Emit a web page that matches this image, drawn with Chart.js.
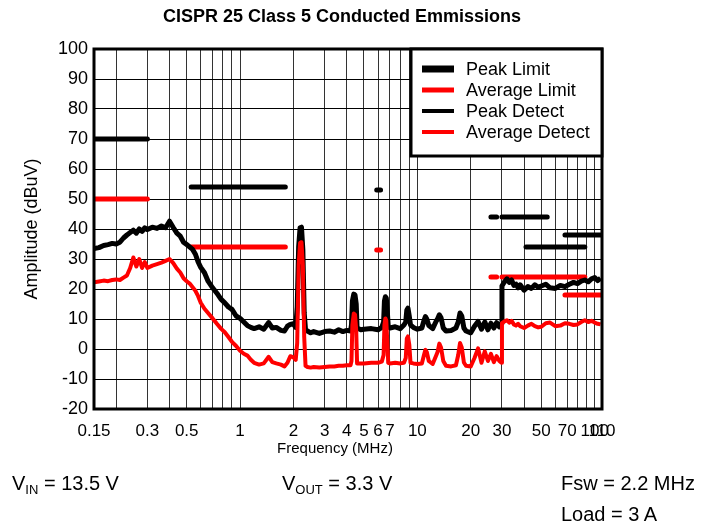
<!DOCTYPE html>
<html>
<head>
<meta charset="utf-8">
<title>CISPR 25 Class 5 Conducted Emmissions</title>
<script src="https://cdn.jsdelivr.net/npm/chart.js@4.4.0/dist/chart.umd.min.js"></script>
<style>
  body { margin: 0; background: #fff; }
  #wrap {
    position: relative;
    width: 705px;
    height: 526px;
    font-family: Arial, "Liberation Sans", sans-serif;
  }
  #emiChart { position: absolute; left: 0; top: 0; }
  .note {
    position: absolute;
    font-size: 20px;
    line-height: 20px;
    color: #000;
    white-space: nowrap;
  }
  .note sub { font-size: 13px; vertical-align: -4px; line-height: 0; }
</style>
</head>
<body>
<div id="wrap">
  <canvas id="emiChart" width="705" height="526"></canvas>
  <div class="note" style="left: 12px; top: 473px">V<sub>IN</sub> = 13.5 V</div>
  <div class="note" style="left: 282px; top: 473px">V<sub>OUT</sub> = 3.3 V</div>
  <div class="note" style="left: 561px; top: 473px">Fsw = 2.2 MHz</div>
  <div class="note" style="left: 561px; top: 504px">Load = 3 A</div>
</div>
<script>
  const chartTitle = "CISPR 25 Class 5 Conducted Emmissions";
  const xTitle = "Frequency (MHz)";
  const yTitle = "Amplitude (dBuV)";
  const FONT = "Arial, 'Liberation Sans', sans-serif";

  // log axis: lines at every decade step, labels only on some of them
  const gridFreqs = [
    0.15, 0.2, 0.3, 0.4, 0.5, 0.6, 0.7, 0.8, 0.9, 1, 2, 3, 4, 5, 6, 7, 8, 9,
    10, 20, 30, 40, 50, 60, 70, 80, 90, 100, 110,
  ];
  const labelFreqs = [0.15, 0.3, 0.5, 1, 2, 3, 4, 5, 6, 7, 10, 20, 30, 50, 70, 100, 110];

  // limit bands: [start MHz, end MHz, level dBuV]
  const peakLimitBands = [
    [0.15, 0.3, 70],
    [0.53, 1.8, 54],
    [5.9, 6.2, 53],
    [26, 28, 44],
    [30, 54, 44],
    [41, 88, 34],
    [68, 108, 38],
  ];
  const avgLimitBands = [
    [0.15, 0.3, 50],
    [0.53, 1.8, 34],
    [5.9, 6.2, 33],
    [26, 28, 24],
    [30, 54, 24],
    [41, 88, 24],
    [68, 108, 18],
  ];

  // measured sweep (MHz)
  const sweepFreqs = [
    0.15, 0.16, 0.17, 0.18, 0.19, 0.2, 0.21, 0.22, 0.23, 0.24,
    0.25, 0.26, 0.27, 0.28, 0.29, 0.3, 0.32, 0.34, 0.36, 0.38,
    0.4, 0.42, 0.44, 0.46, 0.48, 0.5, 0.52, 0.54, 0.56, 0.58,
    0.6, 0.63, 0.66, 0.7, 0.74, 0.78, 0.82, 0.86, 0.9, 0.95,
    1.0, 1.05, 1.1, 1.15, 1.2, 1.28, 1.36, 1.45, 1.52, 1.6,
    1.7, 1.78, 1.85, 1.92, 2.0, 2.06, 2.1, 2.14, 2.18, 2.22,
    2.26, 2.3, 2.34, 2.4, 2.5, 2.6, 2.8, 3.0, 3.2, 3.4,
    3.6, 3.8, 4.0, 4.2, 4.25, 4.3, 4.38, 4.45, 4.52, 4.57,
    4.8, 5.0, 5.5, 6.0, 6.3, 6.45, 6.52, 6.6, 6.68, 6.76,
    6.85, 7.0, 7.5, 8.0, 8.4, 8.6, 8.72, 8.85, 9.0, 9.15,
    9.5, 10, 10.6, 10.9, 11.1, 11.3, 11.6, 12.2, 12.8, 13.0,
    13.3, 13.6, 14.0, 14.5, 15.5, 16.5, 17.0, 17.4, 17.8, 18.3,
    18.8, 20, 21, 22, 23, 24, 25, 26, 27, 28,
    29, 29.8, 30, 31, 32, 33, 34, 35, 36, 37,
    38, 40, 42, 44, 46, 48, 50, 53, 56, 60,
    64, 68, 72, 76, 80, 84, 88, 92, 96, 100,
    104, 108,
  ];
  const peakDetect = [
    33.5, 33.8, 34.5, 34.8, 35.2, 35.0, 35.6, 37.0, 38.0, 38.8,
    39.6, 38.6, 40.0, 39.2, 40.4, 39.8, 40.6, 40.2, 41.0, 40.4,
    42.6, 40.5, 38.6, 37.6, 35.6, 34.8, 34.0, 33.2, 31.6, 29.0,
    27.2, 25.4, 22.6, 20.4, 18.6, 16.6, 15.4, 14.0, 13.2, 11.0,
    10.2, 9.0, 7.8, 7.2, 6.8, 7.4, 6.6, 8.8, 7.0, 7.2,
    6.2, 6.0, 7.6, 8.2, 8.4, 7.2, 14.0, 34.0, 40.4, 40.6,
    33.0, 12.0, 6.4, 6.0, 5.4, 5.8, 5.2, 5.8, 6.0, 5.6,
    6.4, 5.8, 6.2, 6.0, 8.0, 16.0, 18.3, 18.0, 15.0, 7.0,
    6.4, 6.6, 6.8, 6.4, 7.2, 9.0, 16.0, 17.4, 17.0, 13.0,
    7.5, 7.0, 7.4, 6.8, 8.0, 9.0, 13.0, 13.6, 11.0, 8.0,
    7.2, 6.6, 7.0, 9.5, 10.8, 10.0, 7.8, 6.8, 9.4, 10.0,
    11.4, 10.4, 7.0, 6.0, 6.2, 7.0, 9.0, 12.0, 11.0, 7.0,
    6.0, 5.4, 7.6, 9.2, 6.6, 9.0, 6.4, 8.6, 7.0, 8.8,
    7.4, 8.6, 21.0, 22.4, 23.4, 22.2, 23.0, 21.2, 21.6, 20.4,
    21.4, 19.6, 20.8, 20.2, 21.4, 20.6, 21.0, 21.6, 20.4, 20.2,
    21.2, 20.8, 21.6, 22.2, 21.8, 22.6, 23.0, 22.4, 23.4, 23.8,
    22.8, 23.6,
  ];
  const averageDetect = [
    22.2, 22.5, 22.8, 22.6, 23.0, 23.2, 23.0, 23.8, 24.5, 27.0,
    30.5, 27.5, 30.0, 27.0, 29.0, 27.0, 27.8, 28.3, 28.8, 29.4,
    30.0, 28.6, 26.8, 25.5, 23.6, 22.6, 21.8, 20.6, 19.4, 17.6,
    15.4, 13.4, 12.0, 10.2, 8.4, 6.8, 5.6, 4.0, 2.4, 1.0,
    -0.6, -1.6, -2.2, -3.6, -4.6, -5.2, -4.8, -2.6, -4.4, -4.8,
    -5.2, -5.8, -4.6, -2.4, -2.8, -3.6, 2.0, 28.0, 35.4, 35.6,
    28.0, 4.0, -5.6, -6.0, -6.2, -6.0, -6.2, -6.0, -5.8, -5.8,
    -5.6, -5.6, -5.4, -5.4, -4.0, 8.0, 11.8, 11.5, 6.0, -4.8,
    -4.8, -4.8, -4.6, -4.6, -4.2, -2.0, 8.0, 10.2, 9.5, 3.0,
    -4.6, -4.8, -4.6, -4.8, -4.6, -3.0, 3.5, 4.2, 1.5, -4.6,
    -4.8, -5.0, -4.8, -2.0, -0.3, -1.0, -4.0, -5.0, -2.0, -1.0,
    1.8, 0.5, -4.0, -5.6, -5.8, -5.4, -2.0, 2.0, 0.5, -4.5,
    -5.6, -5.8, -3.0, 0.2, -4.6, -0.8, -4.0, -1.6, -4.4, -2.4,
    -4.0, -4.6, 8.6, 9.2, 9.6, 8.8, 9.4, 8.2, 7.8, 8.4,
    7.6, 7.0, 7.8, 8.4, 7.6, 7.2, 7.4, 8.6, 8.8, 7.6,
    7.8, 8.6, 8.4, 8.0, 8.2, 9.0, 9.6, 9.0, 9.4, 8.8,
    8.4, 8.2,
  ];

  function bandPoints(bands) {
    const pts = [];
    bands.forEach(([from, to, level]) => {
      pts.push({ x: from, y: level }, { x: to, y: level }, { x: to, y: null });
    });
    return pts;
  }

  function sweepPoints(values) {
    return sweepFreqs.map((f, i) => ({ x: f, y: values[i] }));
  }

  // frame round the plot, boxed legend in the top right corner, headings
  const legendLineWidths = [7, 5, 4, 4];

  const framePlugin = {
    id: "frame",
    afterDraw(chart) {
      const { ctx, chartArea } = chart;
      const { left, top, right, bottom } = chartArea;
      ctx.save();

      ctx.lineWidth = 3;
      ctx.strokeStyle = "#000";
      ctx.strokeRect(left, top, right - left, bottom - top);

      const bx = 411;
      const bh = 107;
      ctx.fillStyle = "#fff";
      ctx.fillRect(bx, top, right - bx, bh);
      ctx.strokeRect(bx, top, right - bx, bh);

      ctx.font = `18px ${FONT}`;
      ctx.textAlign = "left";
      ctx.textBaseline = "middle";
      chart.data.datasets.forEach((ds, i) => {
        const y = top + 20 + i * 21;
        ctx.beginPath();
        ctx.moveTo(bx + 11, y);
        ctx.lineTo(bx + 43, y);
        ctx.lineCap = "butt";
        ctx.lineWidth = legendLineWidths[i];
        ctx.strokeStyle = ds.borderColor;
        ctx.stroke();
        ctx.fillStyle = "#000";
        ctx.fillText(ds.label, bx + 55, y + 1);
      });

      ctx.textAlign = "center";
      ctx.font = `15px ${FONT}`;
      ctx.fillText(xTitle, 335, bottom + 40);

      ctx.font = `bold 18px ${FONT}`;
      ctx.fillText(chartTitle, 342, 17);
      ctx.restore();
    },
  };

  const ctx = document.getElementById("emiChart");

  new Chart(ctx, {
    type: "line",
    data: {
      datasets: [
        {
          label: "Peak Limit",
          data: bandPoints(peakLimitBands),
          borderColor: "#000000",
          borderWidth: 5,
          borderCapStyle: "round",
          pointRadius: 0,
          spanGaps: false,
          order: 4,
        },
        {
          label: "Average Limit",
          data: bandPoints(avgLimitBands),
          borderColor: "#ff0000",
          borderWidth: 5,
          borderCapStyle: "round",
          pointRadius: 0,
          spanGaps: false,
          order: 3,
        },
        {
          label: "Peak Detect",
          data: sweepPoints(peakDetect),
          borderColor: "#000000",
          borderWidth: 5,
          borderJoinStyle: "round",
          pointRadius: 0,
          order: 2,
        },
        {
          label: "Average Detect",
          data: sweepPoints(averageDetect),
          borderColor: "#ff0000",
          borderWidth: 4,
          borderJoinStyle: "round",
          pointRadius: 0,
          order: 1,
        },
      ],
    },
    options: {
      responsive: false,
      animation: false,
      devicePixelRatio: 1,
      layout: {
        padding: { top: 49, right: 103, bottom: 67, left: 0 },
      },
      plugins: {
        legend: { display: false },
        title: { display: false },
        tooltip: { enabled: false },
      },
      scales: {
        x: {
          type: "logarithmic",
          min: 0.15,
          max: 110,
          afterBuildTicks: (scale) => {
            scale.ticks = gridFreqs.map((v) => ({ value: v }));
          },
          afterFit: (scale) => {
            scale.height = 50;
          },
          ticks: {
            autoSkip: false,
            maxRotation: 0,
            minRotation: 0,
            padding: 12,
            color: "#000",
            font: { family: FONT, size: 17 },
            callback: (value) => (labelFreqs.includes(value) ? String(value) : ""),
          },
          grid: { color: "#333", lineWidth: 1, drawTicks: false },
          border: { display: false },
        },
        y: {
          type: "linear",
          min: -20,
          max: 100,
          afterFit: (scale) => {
            scale.width = 94;
          },
          ticks: {
            stepSize: 10,
            padding: 6,
            color: "#000",
            font: { family: FONT, size: 18 },
          },
          grid: { color: "#000", lineWidth: 1, drawTicks: false },
          border: { display: false },
          title: {
            display: true,
            text: yTitle,
            color: "#000",
            font: { family: FONT, size: 18 },
            padding: { top: 21, bottom: 0 },
          },
        },
      },
    },
    plugins: [framePlugin],
  });
</script>
</body>
</html>
